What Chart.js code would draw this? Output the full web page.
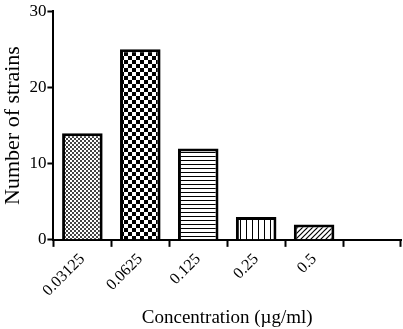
<!DOCTYPE html>
<html>
<head>
<meta charset="utf-8">
<script src="https://cdn.jsdelivr.net/npm/chart.js@4.4.0/dist/chart.umd.min.js"></script>
<style>
  html, body { margin: 0; padding: 0; background: #fff; }
  #wrap { width: 403px; height: 329px; }
</style>
</head>
<body>
<div id="wrap"><canvas id="chartjs-0" width="403" height="329"></canvas></div>
<script>
// concentrations on x axis (last slot is empty, as in the original figure)
var concentrations = ["0.03125", "0.0625", "0.125", "0.25", "0.5", ""];
// number of strains per concentration
var strains = [14, 25, 12, 3, 2, null];
var yTicks = [0, 10, 20, 30];

/* make a small tile and turn it into a fill pattern */
function makePattern(size, draw) {
    let c = document.createElement("canvas");
    c.width = size;
    c.height = size;
    let g = c.getContext("2d");
    g.fillStyle = "#fff";
    g.fillRect(0, 0, size, size);
    g.fillStyle = "#000";
    g.strokeStyle = "#000";
    draw(g);
    return c.getContext("2d").createPattern(c, "repeat");
}

// fine checker
let pat1 = makePattern(4, function(g) {
    g.fillStyle = "#444";
    g.fillRect(0, 0, 2, 2);
    g.fillRect(2, 2, 2, 2);
});
// coarse checker
let pat2 = makePattern(8, function(g) {
    g.fillRect(0, 0, 4, 4);
    g.fillRect(4, 4, 4, 4);
});
// horizontal lines
let pat3 = makePattern(4, function(g) {
    g.fillRect(0, 0, 4, 1);
});
// vertical lines
let pat4 = makePattern(6, function(g) {
    g.fillRect(0, 0, 1, 6);
});
// diagonal lines
let pat5 = makePattern(5, function(g) {
    g.lineWidth = 1.2;
    g.beginPath();
    g.moveTo(0, 5); g.lineTo(5, 0);
    g.moveTo(-1, 1); g.lineTo(1, -1);
    g.moveTo(4, 6); g.lineTo(6, 4);
    g.stroke();
});

let fills = [pat1, pat2, pat3, pat4, pat5, "#fff"];
let serif = "'Liberation Serif', 'Times New Roman', serif";

let ctx0 = document.getElementById("chartjs-0");
let myChart0 = new Chart(ctx0, {
    "type": "bar",
    "data": {
        "labels": concentrations,
        "datasets": [{
            "data": strains,
            "backgroundColor": fills,
            "borderColor": "#000",
            "borderWidth": 3,
            "borderSkipped": "bottom",
            "barPercentage": 0.7,
            "categoryPercentage": 1.0
        }]
    },
    "options": {
        responsive: false,
        animation: false,
        maintainAspectRatio: false,
        layout: { padding: { top: 0, right: 2, left: 0, bottom: 0 } },
        plugins: {
            legend: { display: false },
            tooltip: { enabled: false }
        },
        scales: {
            x: {
                grid: {
                    drawOnChartArea: false,
                    tickLength: 7,
                    tickColor: "#000",
                    tickWidth: 2
                },
                border: { color: "#000", width: 2 },
                ticks: {
                    color: "#000",
                    minRotation: 45,
                    maxRotation: 45,
                    font: { family: serif, size: 16 },
                    padding: 3
                },
                title: {
                    display: true,
                    text: "Concentration (\u00b5g/ml)",
                    color: "#000",
                    font: { family: serif, size: 19 },
                    padding: { top: 3, bottom: 0 }
                }
            },
            y: {
                min: 0,
                max: 30,
                afterBuildTicks: function(axis) {
                    axis.ticks = yTicks.map(function(v) { return { value: v }; });
                },
                grid: {
                    drawOnChartArea: false,
                    tickLength: 6,
                    tickColor: "#000",
                    tickWidth: 2
                },
                border: { color: "#000", width: 2 },
                ticks: {
                    color: "#000",
                    font: { family: serif, size: 17 },
                    padding: 1
                },
                title: {
                    display: true,
                    text: "Number of strains",
                    color: "#000",
                    font: { family: serif, size: 22 },
                    padding: { top: 0, bottom: 2 }
                }
            }
        }
    }
});
</script>
</body>
</html>
